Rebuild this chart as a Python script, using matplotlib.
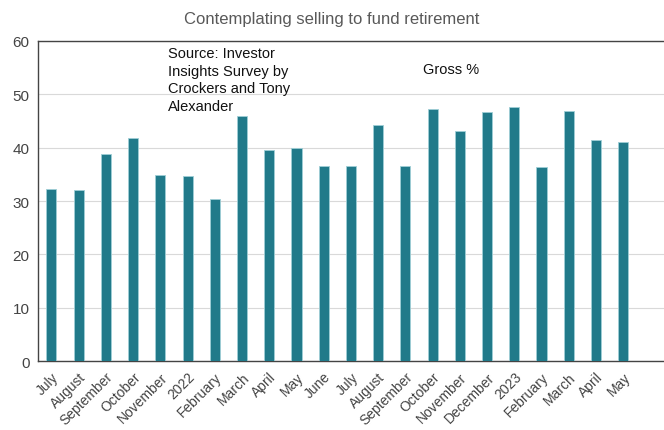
import matplotlib
matplotlib.use("Agg")
import matplotlib.pyplot as plt

categories = ["July", "August", "September", "October", "November", "2022", "February",
              "March", "April", "May", "June", "July", "August", "September", "October",
              "November", "December", "2023", "February", "March", "April", "May"]
gross = [32.3, 32.0, 38.8, 41.9, 34.9, 34.7, 30.3, 46.0, 39.6, 40.0, 36.5, 36.6,
         44.2, 36.6, 47.2, 43.2, 46.7, 47.7, 36.3, 46.8, 41.5, 41.0]
yticks = [0, 10, 20, 30, 40, 50, 60]

plt.rcParams['font.family'] = ['Liberation Sans', 'DejaVu Sans']
fig = plt.figure(figsize=(6.64, 4.31), dpi=100)
ax = fig.add_axes([0.057, 0.160, 0.943, 0.7426])

x = list(range(len(categories)))
ax.bar(x, gross, width=0.37, color="#217A8A", edgecolor="#9fcfd6", linewidth=0.6, zorder=3)
ax.set_xlim(-0.5, len(categories) + 0.5)
ax.set_ylim(0, 60)
ax.set_yticks(yticks)
ax.set_yticklabels([str(v) for v in yticks], fontsize=11, color="#444444")
ax.set_xticks(x)
ax.set_xticklabels(categories, rotation=45, ha="right", rotation_mode="anchor",
                   fontsize=10, color="#444444")
ax.tick_params(axis="both", length=0, pad=6)
ax.grid(axis="y", color="#d9d9d9", linewidth=0.8, zorder=0)
for s in ["top", "left", "bottom"]:
    ax.spines[s].set_color("#444444")
    ax.spines[s].set_linewidth(1.0)
ax.spines["right"].set_visible(False)

fig.text(0.5, 0.955, "Contemplating selling to fund retirement", ha="center", va="center",
         fontsize=12, color="#595959")
ax.text(4.27, 59.0, "Source: Investor\nInsights Survey by\nCrockers and Tony\nAlexander",
        ha="left", va="top", fontsize=10.5, color="#111111", linespacing=1.32)
ax.text(13.63, 54.8, "Gross %", ha="left", va="center", fontsize=10.5, color="#111111")

fig.savefig("out.png", dpi=100)
